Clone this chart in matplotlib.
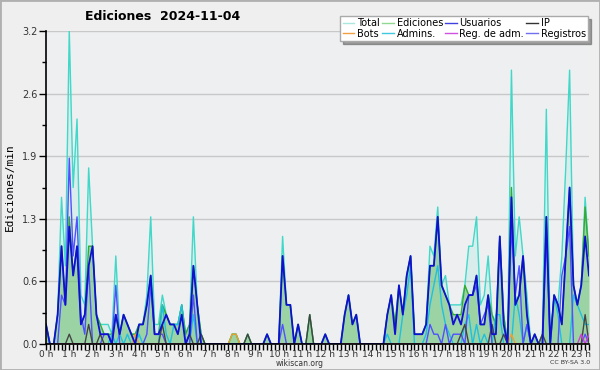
import numpy as np
import matplotlib
matplotlib.use('Agg')
import matplotlib.pyplot as plt
from matplotlib.lines import Line2D
from matplotlib.patches import Rectangle

# pas de 10 min, de 0 h a 23 h 20
total = [0.2, 0, 0, 0.3, 1.5, 0.8,
         3.2, 1.6, 2.3, 0.5, 0.4, 1.8,
         1.0, 0.3, 0.2, 0.2, 0.2, 0.1,
         0.9, 0.1, 0.3, 0.2, 0.1, 0.1,
         0.2, 0.2, 0.5, 1.3, 0.2, 0.2,
         0.5, 0.3, 0.2, 0.2, 0.2, 0.4,
         0.1, 0.2, 1.3, 0.4, 0.1, 0,
         0, 0, 0, 0, 0, 0,
         0.1, 0.1, 0, 0, 0.1, 0,
         0, 0, 0, 0.1, 0, 0,
         0, 1.1, 0.4, 0.4, 0, 0.2,
         0, 0, 0.3, 0, 0, 0,
         0.1, 0, 0, 0, 0, 0.3,
         0.5, 0.2, 0.3, 0, 0, 0,
         0, 0, 0, 0, 0.3, 0.5,
         0.2, 0.6, 0.3, 0.7, 0.9, 0.1,
         0.1, 0.1, 0.2, 1.0, 0.9, 1.4,
         0.6, 0.7, 0.4, 0.4, 0.4, 0.4,
         0.6, 1.0, 1.0, 1.3, 0.4, 0.5,
         0.9, 0.3, 0.2, 1.1, 0.3, 0,
         2.8, 0.9, 1.3, 0.9, 0.5, 0,
         0.1, 0, 0.1, 2.4, 0, 0.5,
         0.4, 0.9, 1.8, 2.8, 0.6, 0.4,
         0.6, 1.5, 0.9]
ediciones = [0.2, 0, 0, 0.3, 1.0, 0.4,
             1.3, 0.7, 1.0, 0.2, 0.3, 1.0,
             1.0, 0.3, 0.2, 0.1, 0.1, 0.1,
             0.3, 0.1, 0.3, 0.2, 0.1, 0.1,
             0.2, 0.2, 0.4, 0.7, 0.1, 0.1,
             0.4, 0.3, 0.2, 0.2, 0.2, 0.4,
             0.1, 0.2, 0.8, 0.4, 0.1, 0,
             0, 0, 0, 0, 0, 0,
             0.1, 0.1, 0, 0, 0.1, 0,
             0, 0, 0, 0.1, 0, 0,
             0, 0.9, 0.4, 0.4, 0, 0.2,
             0, 0, 0.3, 0, 0, 0,
             0.1, 0, 0, 0, 0, 0.3,
             0.5, 0.2, 0.3, 0, 0, 0,
             0, 0, 0, 0, 0.3, 0.5,
             0.2, 0.6, 0.3, 0.7, 0.9, 0.1,
             0.1, 0.1, 0.2, 0.8, 0.8, 1.3,
             0.6, 0.5, 0.4, 0.3, 0.3, 0.3,
             0.6, 0.5, 0.5, 0.7, 0.2, 0.2,
             0.5, 0.3, 0.2, 1.1, 0.3, 0,
             1.6, 0.4, 0.5, 0.9, 0.3, 0,
             0.1, 0, 0.1, 1.3, 0, 0.5,
             0.4, 0.2, 0.9, 1.6, 0.6, 0.4,
             0.6, 1.4, 0.9]
usuarios = [0.2, 0, 0, 0.3, 1.0, 0.4,
            1.2, 0.7, 1.0, 0.2, 0.3, 0.8,
            1.0, 0.3, 0.1, 0.1, 0.1, 0,
            0.3, 0.1, 0.3, 0.2, 0.1, 0,
            0.2, 0.2, 0.4, 0.7, 0.1, 0.1,
            0.2, 0.3, 0.2, 0.2, 0.1, 0.3,
            0, 0.1, 0.8, 0.4, 0, 0,
            0, 0, 0, 0, 0, 0,
            0, 0, 0, 0, 0, 0,
            0, 0, 0, 0.1, 0, 0,
            0, 0.9, 0.4, 0.4, 0, 0.2,
            0, 0, 0, 0, 0, 0,
            0.1, 0, 0, 0, 0, 0.3,
            0.5, 0.2, 0.3, 0, 0, 0,
            0, 0, 0, 0, 0.3, 0.5,
            0.1, 0.6, 0.3, 0.7, 0.9, 0.1,
            0.1, 0.1, 0.2, 0.8, 0.8, 1.3,
            0.6, 0.5, 0.4, 0.2, 0.3, 0.2,
            0.4, 0.5, 0.5, 0.7, 0.2, 0.2,
            0.5, 0.1, 0.1, 1.1, 0.2, 0,
            1.5, 0.4, 0.5, 0.9, 0.3, 0,
            0.1, 0, 0, 1.3, 0, 0.5,
            0.4, 0.2, 0.9, 1.6, 0.6, 0.4,
            0.6, 1.1, 0.7]
ip = [0, 0, 0, 0, 0, 0,
      0.1, 0, 0, 0, 0, 0.2,
      0, 0, 0.1, 0, 0, 0,
      0, 0, 0, 0, 0, 0,
      0, 0, 0, 0, 0, 0,
      0.2, 0, 0, 0, 0, 0,
      0, 0.1, 0, 0, 0.1, 0,
      0, 0, 0, 0, 0, 0,
      0, 0, 0, 0, 0.1, 0,
      0, 0, 0, 0, 0, 0,
      0, 0, 0, 0, 0, 0,
      0, 0, 0.3, 0, 0, 0,
      0, 0, 0, 0, 0, 0,
      0, 0, 0, 0, 0, 0,
      0, 0, 0, 0, 0, 0,
      0, 0, 0, 0, 0, 0,
      0, 0, 0, 0, 0, 0,
      0, 0, 0, 0, 0, 0.1,
      0.2, 0, 0, 0, 0, 0,
      0, 0.2, 0, 0, 0.1, 0,
      0, 0, 0, 0, 0, 0,
      0, 0, 0.1, 0, 0, 0,
      0, 0, 0, 0, 0, 0,
      0, 0.3, 0]
bots = [0] * 141
bots[23] = 0.1
bots[48] = 0.1
bots[49] = 0.1
bots[120] = 0.1
admins = [0.2, 0, 0, 0, 0, 0,
          0, 0, 0, 0, 0, 0,
          0, 0, 0, 0, 0, 0.1,
          0, 0.1, 0, 0.1, 0, 0,
          0.1, 0, 0, 0, 0, 0,
          0.4, 0.1, 0, 0.2, 0.2, 0.4,
          0, 0, 0.3, 0, 0, 0,
          0, 0, 0, 0, 0, 0,
          0, 0, 0, 0, 0, 0,
          0, 0, 0, 0, 0, 0,
          0, 0, 0, 0, 0, 0,
          0, 0, 0, 0, 0, 0,
          0, 0, 0, 0, 0, 0,
          0, 0, 0, 0, 0, 0,
          0, 0, 0, 0, 0.1, 0,
          0, 0, 0.3, 0.5, 0.8, 0,
          0, 0, 0.1, 0.4, 0.6, 0.8,
          0.4, 0.2, 0.1, 0, 0, 0,
          0.2, 0.3, 0, 0.2, 0, 0.1,
          0, 0, 0.3, 0.3, 0, 0,
          0, 0.5, 0.3, 0, 0.2, 0,
          0, 0, 0, 0, 0, 0.5,
          0.3, 0, 0, 0, 0.5, 0.4,
          0.3, 0.2, 0.2]
reg_adm = [0] * 141
reg_adm[138] = 0.1
reg_adm[140] = 0.1
registros = [0, 0, 0, 0, 0.5, 0.4,
             1.9, 0.9, 1.3, 0.3, 0.1, 0.8,
             0, 0, 0, 0.1, 0.1, 0,
             0.6, 0, 0, 0, 0, 0,
             0, 0, 0.1, 0.6, 0.1, 0.1,
             0.1, 0, 0, 0, 0, 0,
             0, 0, 0.5, 0, 0, 0,
             0, 0, 0, 0, 0, 0,
             0, 0, 0, 0, 0, 0,
             0, 0, 0, 0, 0, 0,
             0, 0.2, 0, 0, 0, 0,
             0, 0, 0, 0, 0, 0,
             0, 0, 0, 0, 0, 0,
             0, 0, 0, 0, 0, 0,
             0, 0, 0, 0, 0, 0,
             0, 0, 0, 0, 0, 0,
             0, 0, 0, 0.2, 0.1, 0.1,
             0, 0.2, 0, 0.1, 0.1, 0.1,
             0, 0.5, 0.5, 0.6, 0.2, 0.3,
             0.4, 0, 0, 0, 0, 0,
             1.2, 0.5, 0.8, 0, 0.2, 0,
             0, 0, 0, 1.1, 0, 0,
             0, 0.7, 0.9, 1.2, 0, 0,
             0, 0.1, 0]

horas = np.arange(len(total)) / 6.0
etiquetas_y = ['0.0', '0.6', '1.3', '1.9', '2.6', '3.2']

fig = plt.figure(figsize=(6, 3.7), dpi=100, facecolor='#efefef')
ax = fig.add_axes([46/600, 1-344/370, 543/600, 313/370])
ax.set_facecolor('#eeeff1')

ax.fill_between(horas, total, color='#40e0d0', alpha=0.12, lw=0)
ax.plot(horas, total, color='#40d8c8', lw=1)
ax.fill_between(horas, ediciones, color='#6cbf6c', alpha=0.55, lw=0)
ax.plot(horas, ediciones, color='#33aa33', lw=1)
ax.plot(horas, admins, color='#20c0e0', lw=1)
ax.plot(horas, registros, color='#5050ff', lw=1)
ax.plot(horas, ip, color='#444444', lw=1)
ax.plot(horas, bots, color='#f0a030', lw=1)
ax.plot(horas, reg_adm, color='#d040d0', lw=1)
ax.plot(horas, usuarios, color='#1010d0', lw=1.3)

ax.set_xlim(0, horas[-1])
ax.set_ylim(0, 3.2)
ax.set_xticks(np.arange(24))
ax.set_xticklabels([f'{h} h' for h in range(24)], fontsize=6.5, color='#333333')
ax.set_xticks(np.arange(0, horas[-1] + 0.01, 1/6), minor=True)
ax.set_yticks(np.linspace(0, 3.2, 6))
ax.set_yticklabels(etiquetas_y, fontsize=7, color='#333333')
ax.set_yticks(np.linspace(0.32, 2.88, 5), minor=True)
ax.tick_params(axis='x', which='both', length=4, width=1, pad=0.5)
ax.tick_params(axis='y', which='major', length=5, width=1, pad=1)
ax.tick_params(axis='y', which='minor', length=3, width=1)
ax.grid(axis='y', which='major', color='#c8c8c8', lw=1)
ax.set_axisbelow(True)
for s in ['top', 'right']:
    ax.spines[s].set_visible(False)
for s in ['left', 'bottom']:
    ax.spines[s].set_linewidth(1.2)

fig.text(10/600, 1-187/370, 'Ediciones/min', rotation=90, fontsize=8,
         family='DejaVu Sans Mono', ha='center', va='center')
fig.text(85/600, 1-17/370, 'Ediciones  2024-11-04', fontsize=9, fontweight='bold',
         ha='left', va='center')
fig.text(300/600, 1-363/370, 'wikiscan.org', fontsize=5.5, ha='center', va='center', color='#333333')
fig.text(590/600, 1-363/370, 'CC BY-SA 3.0', fontsize=4.5, ha='right', va='center', color='#333333')

noms = ['Total', 'Bots', 'Ediciones', 'Admins.', 'Usuarios', 'Reg. de adm.', 'IP', 'Registros']
couleurs = ['#a8e8e0', '#f0a040', '#90d890', '#40c8e0', '#4040e0', '#d050e0', '#333333', '#7070f0']
poignees = [Line2D([0], [0], color=c, lw=1) for c in couleurs]
leg = fig.legend(poignees, noms, ncol=4, loc='upper right',
                 bbox_to_anchor=(593/600, 1-11/370), fontsize=7, frameon=True,
                 shadow=True, fancybox=False, handlelength=1.2, handletextpad=0.3,
                 columnspacing=0.2, borderpad=0.25, labelspacing=0.05)
leg.get_frame().set_edgecolor('#aaaaaa')
leg.get_frame().set_linewidth(1)

fig.patches.append(Rectangle((0, 0), 1, 1, transform=fig.transFigure, fill=False,
                             edgecolor='#b0b0b0', lw=2))
fig.savefig('out.png', dpi=100, facecolor=fig.get_facecolor())
